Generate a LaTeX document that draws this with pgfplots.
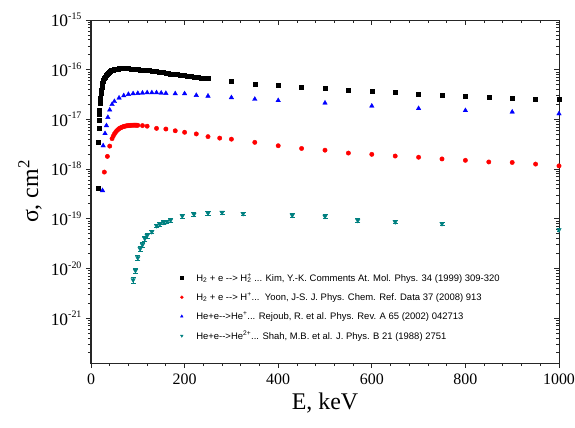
\documentclass[border=0pt]{standalone}
\usepackage{fontspec}
\setmainfont{Liberation Serif}
\setsansfont{Liberation Sans}
\usepackage{pgfplots}
\pgfplotsset{compat=1.18}
\definecolor{dteal}{HTML}{008080}
\newcommand{\ex}[1]{10\raisebox{0.42em}{\fontsize{10}{10}\selectfont#1}}
\pgfplotsset{
  mybox/.style={
    scale only axis, width=468bp, height=343bp,
    xmin=0, xmax=1000, ymin=1.25e-22, ymax=1e-15,
    axis line style={line width=1bp, black!85},
    major tick length=5bp, minor tick length=3bp,
    tick style={line width=0.8bp, black!85},
    xtick={0,200,400,600,800,1000},
    minor xtick={40,80,120,160,240,280,320,360,440,480,520,560,640,680,720,760,840,880,920,960},
    ytick={1e-21,1e-20,1e-19,1e-18,1e-17,1e-16,1e-15},
    minor ytick={2e-22,3e-22,4e-22,5e-22,6e-22,7e-22,8e-22,9e-22,
      2e-21,3e-21,4e-21,5e-21,6e-21,7e-21,8e-21,9e-21,
      2e-20,3e-20,4e-20,5e-20,6e-20,7e-20,8e-20,9e-20,
      2e-19,3e-19,4e-19,5e-19,6e-19,7e-19,8e-19,9e-19,
      2e-18,3e-18,4e-18,5e-18,6e-18,7e-18,8e-18,9e-18,
      2e-17,3e-17,4e-17,5e-17,6e-17,7e-17,8e-17,9e-17,
      2e-16,3e-16,4e-16,5e-16,6e-16,7e-16,8e-16,9e-16},
  }}

\begin{document}
\begin{tikzpicture}
% top and right ticks point inward, as in the source
\begin{semilogyaxis}[mybox, xtick pos=right, ytick pos=right, tick align=inside,
  xticklabels={}, yticklabels={}]
\end{semilogyaxis}
\begin{semilogyaxis}[mybox, name=ax, xtick pos=left, ytick pos=left, tick align=outside,
  xticklabels={0,200,400,600,800,1000},
  yticklabels={\ex{-21},\ex{-20},\ex{-19},\ex{-18},\ex{-17},\ex{-16},\ex{-15}},
  xticklabel style={font=\fontsize{16}{18}\selectfont, yshift=-2bp},
  yticklabel style={font=\fontsize{17.5}{19}\selectfont, xshift=-1bp},
  xlabel={E, keV}, ylabel={σ, cm\textsuperscript{2}},
  xlabel style={font=\fontsize{24}{26}\selectfont, yshift=-2bp},
  ylabel style={font=\fontsize{24}{26}\selectfont, yshift=2bp},
  legend style={at={(rel axis cs:0.184,0.273)}, anchor=north west, draw=none, fill=none,
    font=\sffamily\fontsize{9.5}{11}\selectfont, row sep=6bp, column sep=11bp},
  legend image post style={mark size=1.5bp},
  legend cell align=left]

\addplot[only marks, mark=square*, mark size=2bp, black] coordinates {
(15.5,4.1e-19) (16,3.4e-18) (16.5,6.6e-18) (17,9.8e-18) (17.5,1.25e-17) (18,1.5e-17)
(19,2.1e-17) (20,2.7e-17) (21,3.3e-17) (22,3.9e-17) (23,4.4e-17) (24,4.9e-17)
(25,5.4e-17) (26,5.8e-17) (27,6.2e-17) (28,6.6e-17) (29,6.9e-17) (30,7.2e-17)
(32,7.8e-17) (34,8.3e-17) (36,8.7e-17) (38,9.0e-17) (40,9.3e-17) (42,9.5e-17)
(44,9.7e-17) (46,9.9e-17) (48,1.0e-16) (50,1.01e-16) (52.5,1.02e-16) (55,1.03e-16)
(57.5,1.04e-16) (60,1.05e-16) (65,1.06e-16) (70,1.06e-16) (75,1.06e-16) (80,1.05e-16)
(85,1.04e-16) (90,1.03e-16) (95,1.02e-16) (100,1.01e-16) (105,1.0e-16) (110,9.9e-17)
(115,9.8e-17) (120,9.7e-17) (125,9.6e-17) (130,9.45e-17) (135,9.3e-17) (140,9.15e-17)
(145,9.0e-17) (150,8.9e-17) (155,8.75e-17) (160,8.6e-17) (165,8.45e-17) (170,8.3e-17)
(175,8.2e-17) (180,8.1e-17) (185,7.95e-17) (190,7.85e-17) (195,7.7e-17) (200,7.6e-17)
(205,7.5e-17) (210,7.4e-17) (215,7.3e-17) (220,7.2e-17) (225,7.1e-17) (230,7.0e-17)
(235,6.9e-17) (240,6.8e-17) (245,6.7e-17) (250,6.6e-17)
(300,5.8e-17) (350,5.2e-17) (400,4.8e-17) (450,4.4e-17) (500,4.15e-17) (550,3.9e-17)
(600,3.66e-17) (650,3.45e-17) (700,3.24e-17) (750,3.1e-17) (800,2.95e-17) (850,2.8e-17)
(900,2.7e-17) (950,2.6e-17) (1000,2.5e-17)};
\addlegendentry{H\textsubscript{2} + e -{}-{}> H\rlap{\textsubscript{2}}\textsuperscript{+} ... Kim, Y.-K. Comments At. Mol. Phys. 34 (1999) 309-320}

\addplot[only marks, mark=*, mark size=2.2bp, red] coordinates {
(28.5,8.7e-19) (35,1.8e-18) (40,2.9e-18) (45,4.1e-18) (47.5,4.6e-18) (50,5.1e-18)
(52.5,5.5e-18) (55,5.9e-18) (57.5,6.2e-18) (60,6.5e-18) (62.5,6.7e-18) (65,6.9e-18)
(67.5,7.05e-18) (70,7.2e-18) (72.5,7.3e-18) (75,7.4e-18) (77.5,7.45e-18) (80,7.5e-18)
(82.5,7.55e-18) (85,7.6e-18) (87.5,7.62e-18) (90,7.65e-18) (92.5,7.65e-18) (95,7.65e-18)
(97.5,7.62e-18) (100,7.6e-18) (110,7.5e-18) (120,7.3e-18) (140,6.6e-18) (160,6.4e-18)
(180,5.9e-18) (200,5.5e-18) (225,5.1e-18) (250,4.5e-18) (275,4.2e-18) (300,4.0e-18)
(350,3.45e-18) (400,2.95e-18) (450,2.6e-18) (500,2.4e-18) (550,2.1e-18) (600,1.98e-18)
(650,1.83e-18) (700,1.73e-18) (750,1.6e-18) (800,1.5e-18) (850,1.39e-18) (900,1.36e-18)
(950,1.26e-18) (1000,1.16e-18)};
\addlegendentry{H\textsubscript{2} + e -{}-{}> H\textsuperscript{+}...\ \ Yoon, J-S. J. Phys. Chem. Ref. Data 37 (2008) 913}

\addplot[only marks, mark=triangle*, mark size=2.6bp, blue] coordinates {
(24.6,3.7e-19) (26,2.95e-18) (30,5.2e-18) (33,7.5e-18) (36,1.1e-17) (40,1.55e-17)
(45,2.0e-17) (50,2.3e-17) (60,2.7e-17) (70,3.0e-17) (80,3.2e-17) (90,3.3e-17)
(100,3.35e-17) (110,3.4e-17) (120,3.45e-17) (130,3.45e-17) (140,3.45e-17) (150,3.4e-17)
(160,3.35e-17) (180,3.3e-17) (200,3.3e-17) (225,3.05e-17) (250,2.95e-17) (300,2.75e-17)
(350,2.55e-17) (400,2.4e-17) (500,2.14e-17) (600,1.86e-17) (700,1.66e-17) (800,1.51e-17)
(900,1.41e-17) (1000,1.3e-17)};
\addlegendentry{He+e-{}-{}>He\textsuperscript{+}... Rejoub, R. et al. Phys. Rev. A 65 (2002) 042713}

\addplot[only marks, mark=triangle*, mark size=2.6bp, mark options={rotate=180}, dteal,
  error bars/.cd, y dir=both, y explicit relative,
  error bar style={line width=0.8bp, dteal}, error mark options={rotate=90, mark size=2.5bp, dteal}]
  coordinates {
(90,5.9e-21) +- (0,0.15) (95,9.1e-21) +- (0,0.12) (100,1.64e-20) +- (0,0.12)
(105,2.5e-20) +- (0,0.1) (110,3.0e-20) +- (0,0.1) (115,4.0e-20) +- (0,0.1)
(120,4.6e-20) +- (0,0.1) (130,5.5e-20) +- (0,0.08) (140,7.3e-20) +- (0,0.08)
(147,7.8e-20) +- (0,0.08) (155,8.5e-20) +- (0,0.08) (162,8.8e-20) +- (0,0.08)
(170,9.4e-20) +- (0,0.08) (195,1.14e-19) +- (0,0.08) (220,1.23e-19) +- (0,0.08)
(250,1.3e-19) +- (0,0.08) (280,1.34e-19) +- (0,0.08) (325,1.27e-19) +- (0,0.08)
(430,1.18e-19) +- (0,0.08) (500,1.12e-19) +- (0,0.08) (570,9.3e-20) +- (0,0.08)
(650,8.7e-20) +- (0,0.08) (750,8.0e-20) +- (0,0.08) (1000,6.0e-20) +- (0,0.08)};
\addlegendentry{He+e-{}-{}>He\textsuperscript{2+}... Shah, M.B. et al. J. Phys. B 21 (1988) 2751}
\end{semilogyaxis}
\pgfresetboundingbox
\path (ax.south west) ++(-91bp,-65bp) rectangle ++(575bp,428bp);
\end{tikzpicture}
\end{document}
